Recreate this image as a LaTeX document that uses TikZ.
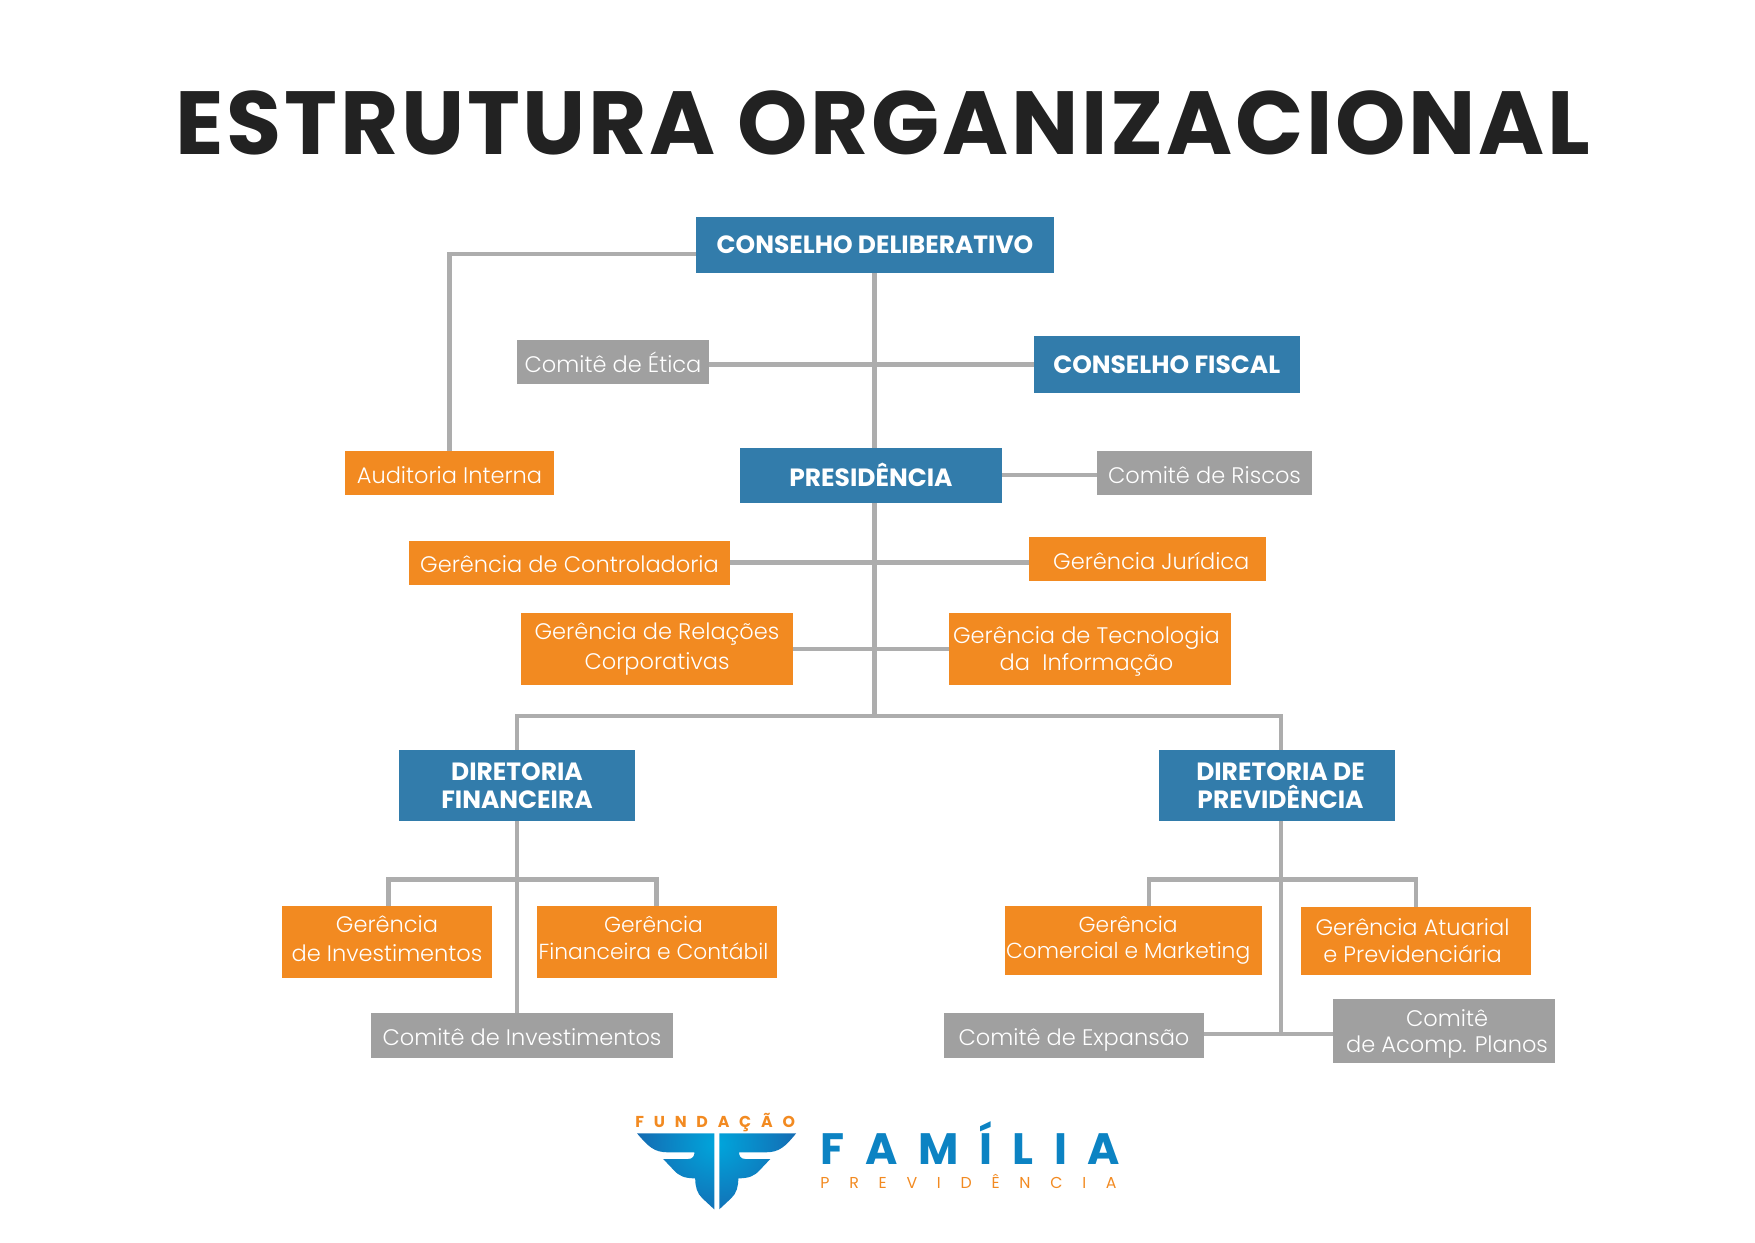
\documentclass[tikz,border=0pt]{standalone}
\usepackage{fontspec}
\setmainfont{Poppins}
\newfontfamily\lightfont{Poppins Light}
\usepackage{tikz}
\usetikzlibrary{backgrounds}
\definecolor{orgblue}{HTML}{327CAB}
\definecolor{orgorange}{HTML}{F28A21}
\definecolor{orggray}{HTML}{A0A0A0}
\definecolor{orgline}{HTML}{ADADAD}
\definecolor{titlegray}{HTML}{222222}
\definecolor{logolight}{HTML}{00A6DC}
\definecolor{logodark}{HTML}{1B57A4}
\tikzset{
  orgtext/.style={inner sep=0pt, text=white, align=center},
  oneline/.style={text height=12.8pt, text depth=1.3pt},
  bluebox/.style={orgtext, fill=orgblue, font=\bfseries\fontsize{14.2}{16}\selectfont},
  orangebox/.style={orgtext, fill=orgorange, font=\lightfont\fontsize{12.8}{15.5}\selectfont},
  graybox/.style={orgtext, fill=orggray, font=\lightfont\fontsize{12.8}{15.5}\selectfont},
  orgconn/.style={draw=orgline, line width=2.4pt, line cap=rect},
}
\begin{document}
\begin{tikzpicture}[x=0.02cm, y=-0.02cm]
      \useasboundingbox (0, 0) rectangle (1755, 1242);
      \node[text=titlegray, font=\bfseries\fontsize{51}{60}\selectfont\addfontfeature{LetterSpace=3}, inner sep=0pt] (title) at (883, 123) {ESTRUTURA ORGANIZACIONAL};
      % top
      \node[bluebox, minimum width=7.18cm, minimum height=1.12cm] (cd) at (875, 245) {\raisebox{.8pt}{CONSELHO DELIBERATIVO}};
      \node[graybox, oneline, minimum width=3.86cm, minimum height=.88cm] (etica) at (613, 362) {Comitê de Ética};
      \node[bluebox, minimum width=5.32cm, minimum height=1.14cm] (fiscal) at (1166.7, 364.5) {CONSELHO FISCAL};
      \node[orangebox, oneline, minimum width=4.18cm, minimum height=.88cm] (audit) at (449.5, 473) {Auditoria Interna};
      \node[bluebox, minimum width=5.24cm, minimum height=1.10cm] (pres) at (871, 475) {PRESIDÊNCIA};
      \node[graybox, oneline, minimum width=4.32cm, minimum height=.88cm] (riscos) at (1204.5, 473) {Comitê de Riscos};
      % gerencias
      \node[orangebox, oneline, minimum width=6.44cm, minimum height=.88cm] (ctrl) at (569.5, 562.5) {Gerência de Controladoria};
      \node[orangebox, oneline, minimum width=4.74cm, minimum height=.88cm] (jur) at (1147.3, 559) {\hspace*{.16cm}Gerência Jurídica};
      \node[orangebox, minimum width=5.44cm, minimum height=1.44cm] (rel) at (657, 649) {Gerência de Relações\\[1.8pt]Corporativas};
      \node[orangebox, minimum width=5.64cm, minimum height=1.44cm] (tec) at (1090, 649) {\rule{0pt}{1em}Gerência de Tecnologia\hspace*{4pt}\\da\ \ Informação\hspace*{4pt}};
      % diretorias
      \node[bluebox, minimum width=4.72cm, minimum height=1.42cm] (dirfin) at (517, 785.5) {DIRETORIA\\FINANCEIRA};
      \node[bluebox, minimum width=4.72cm, minimum height=1.42cm] (dirprev) at (1277, 785.5) {\hspace*{4pt}DIRETORIA DE\\\hspace*{4pt}PREVIDÊNCIA};
      \node[orangebox, minimum width=4.20cm, minimum height=1.44cm] (gerinv) at (387, 942) {Gerência\\[.6pt]de Investimentos\rule[-.3em]{0pt}{0pt}};
      \node[orangebox, minimum width=4.80cm, minimum height=1.44cm, font=\lightfont\fontsize{12.4}{15}\selectfont] (gerfin) at (657, 942) {Gerência\hspace*{4pt}\\Financeira e Contábil\hspace*{4pt}\rule[-.4em]{0pt}{0pt}};
      \node[graybox, oneline, minimum width=6.06cm, minimum height=.90cm] (cominv) at (522, 1035.5) {Comitê de Investimentos};
      \node[orangebox, minimum width=5.14cm, minimum height=1.38cm, font=\lightfont\fontsize{12.4}{15}\selectfont] (gercom) at (1133.4, 940.5) {Gerência\hspace*{6pt}\\Comercial e Marketing\hspace*{6pt}};
      \node[orangebox, minimum width=4.62cm, minimum height=1.36cm] (gerat) at (1416, 940.5) {Gerência Atuarial\hspace*{4pt}\\e Previdenciária\hspace*{4pt}};
      \node[graybox, oneline, minimum width=5.20cm, minimum height=.90cm] (comexp) at (1074, 1035.5) {Comitê de Expansão};
      \node[graybox, minimum width=4.44cm, minimum height=1.28cm] (comacp) at (1444.4, 1030.5) {\hspace*{3pt}\rule{0pt}{1.05em}Comitê\\[-1pt]\hspace*{3pt}de Acomp. Planos};
      % connectors
      \coordinate (audj) at (449.5, 254);
      \coordinate (busc) at (874.5, 716);
      \coordinate (busl) at (517, 716);
      \coordinate (busr) at (1280.7, 716);
      \coordinate (finl) at (388.5, 879.5);
      \coordinate (finr) at (656.6, 879.5);
      \coordinate (prevl) at (1149.3, 879.5);
      \coordinate (prevr) at (1416, 879.5);
      \coordinate (prevj) at (1280.7, 1034);
      \begin{scope}[on background layer]
      \draw[orgconn] (cd.west |- audj) -- (audj) -- (audj |- audit.north);
      \draw[orgconn] (busc |- cd.south) -- (busc |- pres.north);
      \draw[orgconn] (etica.east |- fiscal.west) -- (fiscal.west);
      \draw[orgconn] (pres.east) -- (riscos.west |- pres.east);
      \draw[orgconn] (pres.south -| busc) -- (busc);
      \draw[orgconn] (ctrl.east) -- (ctrl.east -| jur.west);
      \draw[orgconn] (rel.east) -- (tec.west);
      \draw[orgconn] (busl) -- (busr);
      \draw[orgconn] (busl) -- (dirfin.north);
      \draw[orgconn] (busr) -- (busr |- dirprev.north);
      \draw[orgconn] (dirfin.south) -- (dirfin.south |- cominv.north);
      \draw[orgconn] (finl) -- (finr);
      \draw[orgconn] (finl) -- (finl |- gerinv.north);
      \draw[orgconn] (finr) -- (finr |- gerfin.north);
      \draw[orgconn] (busr |- dirprev.south) -- (prevj);
      \draw[orgconn] (prevl) -- (prevr);
      \draw[orgconn] (prevl) -- (prevl |- gercom.north);
      \draw[orgconn] (prevr) -- (prevr |- gerat.north);
      \draw[orgconn] (comexp.east |- prevj) -- (comacp.west |- prevj);
      \end{scope}
      % logo
      \begin{scope}[shift={(600, 1090)}, x=0.00718cm, y=-0.00667cm]
        \begin{scope}
          \clip (103, 130) -- (318, 130) -- (318, 358) -- (285, 325) .. controls (270, 310) and (265, 290) .. (265, 265)
            .. controls (235, 265) and (220, 258) .. (205, 240) -- (176, 207) -- (245, 207) .. controls (258, 207) and (263, 198) .. (263, 187)
            -- (190, 187) .. controls (150, 187) and (135, 170) .. (103, 130) -- cycle
            (546, 130) -- (332, 130) -- (332, 358) -- (365, 325) .. controls (380, 310) and (385, 290) .. (385, 265)
            .. controls (415, 265) and (430, 258) .. (445, 240) -- (474, 207) -- (405, 207) .. controls (392, 207) and (387, 198) .. (387, 187)
            -- (460, 187) .. controls (500, 187) and (515, 170) .. (546, 130) -- cycle;
          \shade[inner color=logolight, outer color=logodark] (325, 160) circle (300);
        \end{scope}
      \end{scope}
      \node[text=orgorange, font=\bfseries\fontsize{9}{10}\selectfont\addfontfeature{LetterSpace=62}, inner sep=0pt, anchor=west] (lfund) at (635, 1123) {FUNDAÇÃO};
      \node[text=logolight!55!logodark, font=\bfseries\fontsize{25}{28}\selectfont\addfontfeature{LetterSpace=47}, inner sep=0pt, anchor=west] (lfam) at (820, 1143) {FAMÍLIA};
      \node[text=orgorange, font=\fontsize{9}{10}\selectfont\addfontfeature{LetterSpace=125}, inner sep=0pt, anchor=west] (lprev) at (820, 1181) {PREVIDÊNCIA};
    \end{tikzpicture}
\end{document}
